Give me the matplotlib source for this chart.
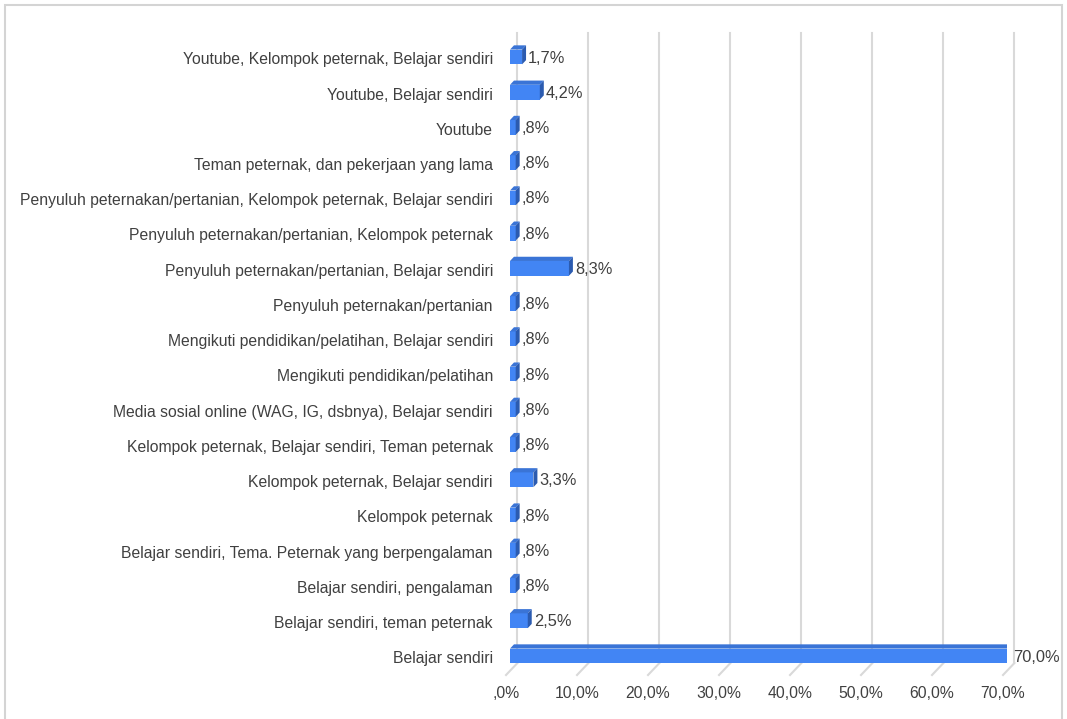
import matplotlib
matplotlib.use("Agg")
import matplotlib.pyplot as plt
from matplotlib.patches import Polygon, Rectangle

plt.rcParams["font.family"] = ["Liberation Sans", "DejaVu Sans"]

# categories listed bottom to top
categories = [
    "Belajar sendiri",
    "Belajar sendiri, teman peternak",
    "Belajar sendiri, pengalaman",
    "Belajar sendiri, Tema. Peternak yang berpengalaman",
    "Kelompok peternak",
    "Kelompok peternak, Belajar sendiri",
    "Kelompok peternak, Belajar sendiri, Teman peternak",
    "Media sosial online (WAG, IG, dsbnya), Belajar sendiri",
    "Mengikuti pendidikan/pelatihan",
    "Mengikuti pendidikan/pelatihan, Belajar sendiri",
    "Penyuluh peternakan/pertanian",
    "Penyuluh peternakan/pertanian, Belajar sendiri",
    "Penyuluh peternakan/pertanian, Kelompok peternak",
    "Penyuluh peternakan/pertanian, Kelompok peternak, Belajar sendiri",
    "Teman peternak, dan pekerjaan yang lama",
    "Youtube",
    "Youtube, Belajar sendiri",
    "Youtube, Kelompok peternak, Belajar sendiri",
]
percentages = [70.0, 2.5, 0.8, 0.8, 0.8, 3.3, 0.8, 0.8, 0.8,
               0.8, 0.8, 8.3, 0.8, 0.8, 0.8, 0.8, 4.2, 1.7]
x_ticks = [0, 10, 20, 30, 40, 50, 60, 70]

FRONT = "#4285f4"
TOP = "#3a74d6"
SIDE = "#2b5bb0"
GRID = "#d9d9d9"
TEXT = "#404040"


def fmt_pct(value):
    text = f"{value:.1f}".replace(".", ",")
    if text.startswith("0,"):
        text = text[1:]
    return text + "%"


fig = plt.figure(figsize=(10.67, 7.19), dpi=100)
ax = fig.add_axes([510 / 1067, 1 - 675 / 719, 497 / 1067, 642 / 719])
ax.set_xlim(0, 70)
ax.set_ylim(-0.54, 17.68)
ax.axis("off")

# depth offsets (data units)
bar_dx, bar_dy = 0.56, 0.12
grid_dx, grid_dy = 1.05, 0.34
floor_x = -0.56

for tick in x_ticks:
    ax.plot([tick + grid_dx, tick + grid_dx], [-0.54 + grid_dy, 17.68],
            color=GRID, lw=1.5, zorder=1, clip_on=False)
    ax.plot([tick + floor_x, tick + grid_dx], [-0.54, -0.54 + grid_dy],
            color=GRID, lw=1.5, zorder=1, clip_on=False)
    ax.text(tick + floor_x, -1.07, fmt_pct(tick), ha="center", va="center",
            fontsize=11.3, color=TEXT)

height = 0.42
for idx, (label, value) in enumerate(zip(categories, percentages)):
    y0 = idx - height / 2
    y1 = idx + height / 2
    ax.add_patch(Rectangle((0, y0), value, height, facecolor=FRONT,
                           edgecolor="none", zorder=3))
    ax.add_patch(Polygon([(0, y1), (value, y1), (value + bar_dx, y1 + bar_dy),
                          (bar_dx, y1 + bar_dy)], closed=True,
                         facecolor=TOP, edgecolor="none", zorder=3))
    ax.add_patch(Polygon([(value, y0), (value + bar_dx, y0 + bar_dy),
                          (value + bar_dx, y1 + bar_dy), (value, y1)], closed=True,
                         facecolor=SIDE, edgecolor="none", zorder=3))
    ax.text(value + bar_dx + 0.3, idx - 0.03, fmt_pct(value), ha="left", va="center",
            fontsize=11.8, color=TEXT, zorder=4)
    ax.text(-2.4, idx - 0.08, label, ha="right", va="center", fontsize=11.3, color=TEXT)

fig.patches.append(Rectangle((5 / 1067, -0.01), 1057 / 1067, 1 - 5 / 719 + 0.01,
                             transform=fig.transFigure, fill=False,
                             edgecolor="#d4d4d4", lw=1.5))

fig.savefig("out.png", dpi=100)
